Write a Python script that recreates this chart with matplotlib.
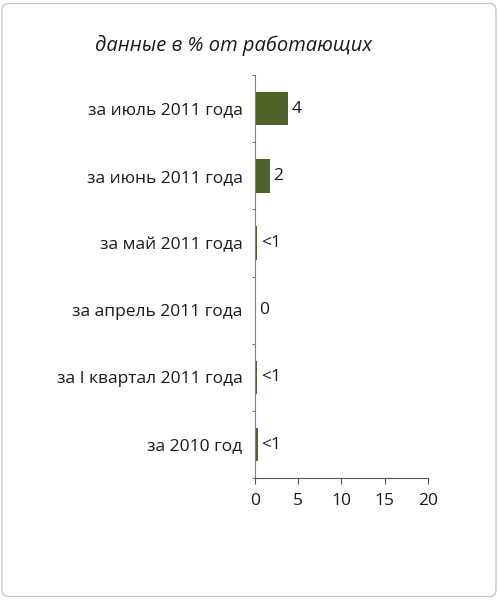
import matplotlib.pyplot as plt
from matplotlib.patches import FancyBboxPatch

# data, top to bottom as in the picture
categories = [
    "за июль 2011 года",
    "за июнь 2011 года",
    "за май 2011 года",
    "за апрель 2011 года",
    "за I квартал 2011 года",
    "за 2010 год",
]
values = [3.8, 1.7, 0.25, 0.0, 0.25, 0.3]
value_labels = ["4", "2", "<1", "0", "<1", "<1"]
x_ticks = [0, 5, 10, 15, 20]

plt.rcParams["font.family"] = ["Open Sans", "DejaVu Sans"]
bar_color = "#4f6228"
text_color = "#1a1a1a"
fs = 12.5

fig = plt.figure(figsize=(4.98, 6.0), dpi=100)
fig.patch.set_facecolor("white")

# rounded frame around the whole chart
frame = FancyBboxPatch((0.004, 0.006), 0.992, 0.988,
                       boxstyle="round,pad=0,rounding_size=0.012",
                       transform=fig.transFigure, facecolor="none",
                       edgecolor="#c8c8c8", linewidth=1.0)
fig.patches.append(frame)

ax = fig.add_axes([0.512, 0.203, 0.347, 0.672])
ypos = list(range(len(categories)))[::-1]
ax.barh(ypos, values, height=0.5, color=bar_color)

for y, v, lab in zip(ypos, values, value_labels):
    ax.text(v + 0.45, y, lab, va="center", ha="left", fontsize=fs,
            color=text_color)

ax.set_xlim(0, 20)
ax.set_ylim(-0.5, len(categories) - 0.5)
ax.set_xticks(x_ticks)
ax.set_xticklabels([str(t) for t in x_ticks], fontsize=fs, color=text_color)
ax.set_yticks(ypos)
ax.set_yticklabels(categories, fontsize=fs, color=text_color)
ax.tick_params(axis="y", length=0, pad=9)
ax.tick_params(axis="x", length=4, color="#555555", pad=7)

# minor ticks between categories, like the reference
ax.set_yticks([y + 0.5 for y in range(-1, len(categories))], minor=True)
ax.tick_params(axis="y", which="minor", length=2, color="#555555")

for side in ["top", "right"]:
    ax.spines[side].set_visible(False)
ax.spines["left"].set_color("#808080")
ax.spines["bottom"].set_color("#555555")

fig.text(0.468, 0.924, "данные в % от работающих", ha="center", va="center",
         fontsize=14.5, style="italic", color=text_color)

fig.savefig("out.png", dpi=100)
